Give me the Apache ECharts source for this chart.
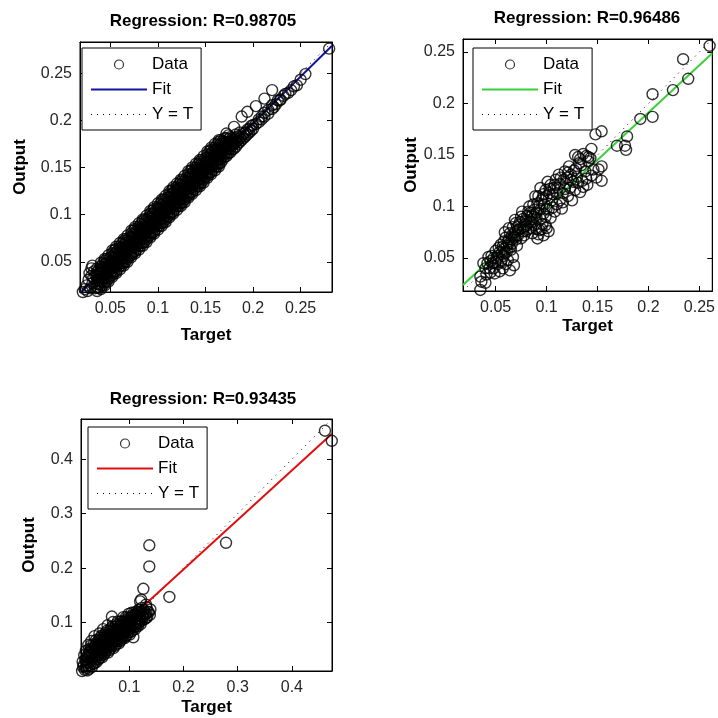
<!DOCTYPE html>
<html><head><meta charset="utf-8">
<script src="https://cdn.jsdelivr.net/npm/echarts@6/dist/echarts.min.js"></script>
<style>html,body{margin:0;padding:0;background:#fff}#c{width:718px;height:718px}</style>
</head><body><div id="c"></div>
<script>
// ---------- text ----------
const panelTitles = ['Regression: R=0.98705', 'Regression: R=0.96486', 'Regression: R=0.93435'];
const legendLabels = ['Data', 'Fit', 'Y = T'];
const xAxisName = 'Target';
const yAxisName = 'Output';

// ---------- axis limits (same for Target and Output in each panel) ----------
const limits1 = [0.018, 0.283];
const limits2 = [0.018, 0.2626];
const limits3 = [0.011, 0.474];

// ---------- fitted lines (end points) ----------
const fit1 = [[0.018, 0.0167], [0.283, 0.279]];
const fit2 = [[0.018, 0.0238], [0.2626, 0.2488]];
const fit3 = [[0.011, 0.0257], [0.474, 0.447]];

// ---------- training data (dense band): Target values and the Outputs read at each ----------
const trainTargets = [
0.036,0.038,0.040,0.042,0.044,0.046,0.048,0.050,0.052,0.054,0.056,0.058,0.060,0.062,0.064,0.066,0.068,0.070,
0.072,0.074,0.076,0.078,0.080,0.082,0.084,0.086,0.088,0.090,0.092,0.094,0.096,0.098,0.100,0.102,0.104,0.106,
0.108,0.110,0.112,0.114,0.116,0.118,0.120,0.122,0.124,0.126,0.128,0.130,0.132,0.134,0.136,0.138,0.140,0.142,
0.144,0.146,0.148,0.150,0.152,0.154,0.156,0.158,0.160,0.162,0.164,0.166,0.168,0.170,0.172,0.174,0.176,
0.178,0.180,0.182,0.184,0.186,0.188,0.190,0.192,0.194,0.196,0.198,0.200,0.203,0.206,0.209,0.212,0.216,0.220,
0.224,0.228,0.232,0.240,0.246,0.255,0.280
];
const trainOutputs = [
[0.019,0.023,0.027,0.031,0.035,0.039,0.043],[0.022,0.026,0.030,0.034,0.038,0.042],[0.025,0.029,0.033,0.037,0.041,0.045],
[0.025,0.028,0.032,0.036,0.040,0.044,0.048],[0.028,0.033,0.036,0.040,0.043,0.047,0.051],[0.029,0.033,0.037,0.041,0.045,0.049,0.053],
[0.032,0.036,0.040,0.044,0.048,0.052],[0.035,0.039,0.043,0.047,0.051,0.055],[0.036,0.039,0.043,0.047,0.051,0.055,0.059],
[0.039,0.044,0.047,0.051,0.054,0.058,0.062],[0.040,0.044,0.048,0.052,0.056,0.060,0.064],[0.043,0.047,0.051,0.055,0.059,0.063],
[0.046,0.050,0.054,0.058,0.062,0.066],[0.046,0.049,0.053,0.057,0.061,0.065,0.069],[0.049,0.054,0.057,0.061,0.064,0.068,0.072],
[0.050,0.054,0.058,0.062,0.066,0.070,0.074],[0.053,0.057,0.061,0.065,0.069,0.073],[0.056,0.060,0.064,0.068,0.072,0.076],
[0.057,0.060,0.064,0.068,0.072,0.076,0.080],[0.060,0.065,0.068,0.072,0.075,0.079,0.083],[0.061,0.065,0.069,0.073,0.077,0.081,0.085],
[0.064,0.068,0.072,0.076,0.080,0.084],[0.067,0.071,0.075,0.079,0.083,0.087],[0.067,0.070,0.074,0.078,0.082,0.086,0.090],
[0.070,0.075,0.078,0.082,0.085,0.089,0.093],[0.071,0.075,0.079,0.083,0.087,0.091,0.095],[0.074,0.078,0.082,0.086,0.090,0.094],
[0.077,0.081,0.085,0.089,0.093,0.097],[0.078,0.081,0.085,0.089,0.093,0.097,0.101],[0.081,0.086,0.089,0.093,0.096,0.100,0.104],
[0.082,0.086,0.090,0.094,0.098,0.102,0.106],[0.085,0.089,0.093,0.097,0.101,0.105],[0.088,0.092,0.096,0.100,0.104,0.108],
[0.088,0.091,0.095,0.099,0.103,0.107,0.111],[0.091,0.096,0.099,0.103,0.106,0.110,0.114],[0.092,0.096,0.100,0.104,0.108,0.112,0.116],
[0.095,0.099,0.103,0.107,0.111,0.115],[0.098,0.102,0.106,0.110,0.114,0.118],[0.099,0.102,0.106,0.110,0.114,0.118,0.122],
[0.102,0.107,0.110,0.114,0.117,0.121,0.125],[0.103,0.107,0.111,0.115,0.119,0.123,0.127],[0.106,0.110,0.114,0.118,0.122,0.126],
[0.109,0.113,0.117,0.121,0.125,0.129],[0.109,0.112,0.116,0.120,0.124,0.128,0.132],[0.112,0.117,0.120,0.124,0.127,0.131,0.135],
[0.113,0.117,0.121,0.125,0.129,0.133,0.137],[0.116,0.120,0.124,0.128,0.132,0.136],[0.119,0.123,0.127,0.131,0.135,0.139],
[0.120,0.123,0.127,0.131,0.135,0.139,0.143],[0.123,0.128,0.131,0.135,0.138,0.142,0.146],[0.124,0.128,0.132,0.136,0.140,0.144,0.148],
[0.127,0.131,0.135,0.139,0.143,0.147],[0.130,0.134,0.138,0.142,0.146,0.150],[0.130,0.133,0.137,0.141,0.145,0.149,0.153],
[0.133,0.138,0.141,0.145,0.148,0.152,0.156],[0.134,0.138,0.142,0.146,0.150,0.154,0.158],[0.137,0.141,0.145,0.149,0.153,0.157],
[0.140,0.144,0.148,0.152,0.156,0.160],[0.141,0.144,0.148,0.152,0.156,0.160,0.164],[0.144,0.149,0.152,0.156,0.159,0.163,0.167],
[0.145,0.149,0.153,0.157,0.161,0.165,0.169],[0.148,0.152,0.156,0.160,0.164,0.168],[0.151,0.155,0.159,0.163,0.167,0.171],
[0.151,0.154,0.158,0.162,0.166,0.170,0.174],[0.154,0.159,0.162,0.166,0.169,0.173,0.177],[0.155,0.159,0.163,0.167,0.171,0.175,0.179],
[0.158,0.162,0.166,0.170,0.174,0.178],[0.161,0.165,0.169,0.173,0.177,0.181],[0.162,0.165,0.169,0.173,0.177,0.181,0.186],
[0.165,0.170,0.173,0.177,0.180,0.184],[0.166,0.170,0.174,0.178,0.182],
[0.169,0.173,0.177,0.181],[0.170,0.175,0.179,0.193],[0.172,0.177,0.181,0.185],[0.175,0.179,0.183],[0.177,0.181,0.187],
[0.179,0.183,0.204],[0.181,0.186],[0.183,0.187],[0.185,0.190,0.209],[0.187,0.191],[0.189,0.194],[0.191,0.195],
[0.196,0.215],[0.198,0.201],[0.201,0.204],[0.204,0.208,0.223],[0.207,0.211],[0.212,0.216,0.232],
[0.217],[0.221],[0.226],[0.232],[0.237],[0.249],[0.276]
];
// extra training points: lower-left end, outer edges of the band, and upper end along the fit
const trainExtra = [
[0.021,0.018],[0.023,0.021],[0.026,0.019],[0.025,0.025],[0.027,0.031],[0.028,0.038],[0.030,0.043],[0.029,0.022],
[0.031,0.027],[0.032,0.033],[0.033,0.040],[0.031,0.046],[0.034,0.022],[0.034,0.036],[0.030,0.035],
[0.040,0.021],[0.044,0.025],[0.048,0.029],[0.052,0.034],[0.056,0.038],[0.060,0.042],[0.064,0.046],[0.068,0.050],
[0.072,0.055],[0.076,0.059],[0.080,0.063],[0.084,0.067],[0.088,0.071],[0.092,0.076],[0.096,0.080],[0.100,0.084],
[0.104,0.088],[0.108,0.092],[0.112,0.097],[0.116,0.101],[0.120,0.105],[0.124,0.109],[0.128,0.113],[0.132,0.118],
[0.136,0.122],[0.140,0.126],[0.144,0.130],[0.148,0.134],[0.152,0.139],[0.156,0.143],[0.160,0.147],[0.164,0.151],
[0.040,0.049],[0.044,0.053],[0.048,0.057],[0.052,0.062],[0.056,0.066],[0.060,0.070],[0.064,0.074],[0.068,0.078],
[0.072,0.083],[0.076,0.087],[0.080,0.091],[0.084,0.095],[0.088,0.099],[0.092,0.104],[0.096,0.108],[0.100,0.112],
[0.104,0.116],[0.108,0.120],[0.112,0.125],[0.116,0.129],[0.120,0.133],[0.124,0.137],[0.128,0.141],[0.132,0.146],
[0.136,0.150],[0.140,0.154],[0.144,0.158],[0.148,0.162],[0.152,0.167],[0.156,0.171],[0.160,0.175],[0.164,0.179],
[0.222,0.214],[0.226,0.221],[0.229,0.222],[0.234,0.228],[0.237,0.229],[0.243,0.236],[0.250,0.243]
];

const validationData = [
[0.260,0.256],[0.234,0.243],[0.239,0.224],[0.224,0.213],[0.204,0.209],[0.204,0.187],[0.192,0.185],
[0.179,0.168],[0.169,0.159],[0.178,0.155],[0.177,0.159],[0.148,0.170],[0.154,0.173],[0.154,0.139],
[0.154,0.125],[0.149,0.128],[0.143,0.147],
[0.128,0.150],[0.136,0.151],[0.133,0.146],[0.139,0.149],[0.141,0.144],[0.146,0.136],[0.151,0.136],
[0.144,0.130],[0.139,0.127],[0.131,0.148],[0.141,0.148],
[0.122,0.139],[0.118,0.134],[0.112,0.131],[0.109,0.126],[0.104,0.121],[0.099,0.116],
[0.126,0.124],[0.131,0.123],[0.136,0.119],[0.128,0.116],[0.133,0.114],[0.125,0.106],
[0.113,0.106],[0.115,0.098],[0.110,0.102],[0.105,0.106],
[0.096,0.108],[0.091,0.103],[0.088,0.097],[0.094,0.097],[0.099,0.090],[0.102,0.097],
[0.088,0.082],[0.093,0.077],[0.097,0.072],[0.102,0.076],[0.099,0.082],[0.091,0.069],[0.086,0.074],
[0.080,0.087],[0.075,0.090],[0.070,0.084],[0.067,0.080],[0.072,0.077],[0.080,0.076],[0.075,0.069],
[0.068,0.071],[0.064,0.074],
[0.062,0.066],[0.057,0.061],[0.065,0.058],[0.059,0.055],[0.054,0.056],[0.067,0.051],[0.062,0.048],
[0.055,0.046],[0.051,0.050],[0.047,0.045],[0.044,0.040],[0.049,0.035],[0.041,0.034],[0.038,0.045],
[0.043,0.051],[0.064,0.038],[0.068,0.043],[0.054,0.037],
[0.035,0.032],[0.036,0.027],[0.040,0.026],[0.035,0.019],
[0.060,0.070],[0.066,0.064],[0.070,0.068],[0.073,0.082],[0.078,0.080],[0.083,0.085],[0.085,0.091],
[0.082,0.095],[0.087,0.102],[0.092,0.110],[0.097,0.112],[0.103,0.113],[0.107,0.118],[0.113,0.122],
[0.117,0.126],[0.120,0.128],[0.124,0.131],[0.118,0.117],[0.121,0.110],[0.108,0.095],[0.104,0.089],
[0.096,0.083],[0.090,0.089],[0.085,0.079],[0.078,0.072],[0.071,0.062],[0.064,0.060],[0.058,0.052],
[0.052,0.044],[0.048,0.040],[0.045,0.047],[0.050,0.057],[0.055,0.063],[0.059,0.075],[0.063,0.079],
[0.069,0.087],[0.076,0.095],[0.083,0.100],[0.089,0.110],[0.094,0.118],[0.101,0.124],[0.110,0.113],
[0.116,0.104],[0.123,0.118],[0.129,0.137],[0.134,0.140],[0.144,0.156],
[0.040,0.040],[0.042,0.045],[0.046,0.052],[0.050,0.046],[0.053,0.060],[0.056,0.055],[0.058,0.066],
[0.061,0.062],[0.063,0.068],[0.066,0.072],[0.069,0.075],[0.071,0.080],[0.074,0.085],[0.077,0.088],
[0.079,0.083],[0.081,0.091],[0.084,0.094],[0.086,0.088],[0.090,0.094],[0.093,0.101],[0.095,0.106],
[0.098,0.102],[0.100,0.110],[0.103,0.117],[0.106,0.112],[0.108,0.121],[0.111,0.118],[0.114,0.128],
[0.116,0.113],[0.119,0.122],[0.121,0.133],[0.124,0.126],[0.127,0.135],[0.130,0.129],[0.132,0.142],
[0.135,0.125],[0.138,0.134],[0.140,0.121],[0.095,0.078],[0.092,0.073],[0.100,0.079],[0.106,0.099],
[0.060,0.044],[0.057,0.040],
[0.045,0.036],[0.048,0.050],[0.052,0.052],[0.056,0.048],[0.058,0.059],[0.061,0.056],[0.063,0.064],
[0.066,0.068],[0.069,0.070],[0.072,0.072],[0.074,0.078],[0.077,0.076],[0.080,0.081],[0.082,0.078],
[0.085,0.085],[0.088,0.090],[0.090,0.078],[0.094,0.088],[0.097,0.093],[0.100,0.098]
];

const testData = [
[0.461,0.4525],[0.4736,0.434],[0.2785,0.2466],[0.137,0.242],[0.137,0.203],[0.126,0.162],[0.174,0.147],
[0.120,0.139],[0.068,0.111],[0.1075,0.073],[0.122,0.142],[0.131,0.133],
[0.018,0.013],[0.016,0.022],[0.019,0.031],[0.017,0.040],[0.020,0.048],
[0.023,0.012],[0.024,0.021],[0.022,0.030],[0.023,0.039],[0.025,0.050],[0.0245,0.059],
[0.028,0.022],[0.029,0.030],[0.027,0.039],[0.028,0.048],[0.029,0.058],[0.030,0.066],
[0.033,0.024],[0.034,0.033],[0.032,0.042],[0.033,0.051],[0.034,0.060],[0.036,0.075],
[0.038,0.032],[0.039,0.041],[0.037,0.050],[0.038,0.059],[0.039,0.068],
[0.043,0.032],[0.044,0.041],[0.042,0.050],[0.043,0.059],[0.044,0.068],[0.045,0.080],
[0.048,0.040],[0.049,0.049],[0.047,0.058],[0.048,0.067],[0.049,0.076],
[0.053,0.041],[0.054,0.050],[0.052,0.059],[0.053,0.068],[0.054,0.077],[0.052,0.088],
[0.058,0.049],[0.059,0.058],[0.057,0.067],[0.058,0.076],[0.059,0.085],[0.060,0.095],
[0.063,0.049],[0.064,0.058],[0.062,0.067],[0.063,0.076],[0.064,0.085],
[0.068,0.057],[0.069,0.066],[0.067,0.075],[0.068,0.084],[0.069,0.093],[0.070,0.101],
[0.073,0.057],[0.074,0.066],[0.072,0.075],[0.073,0.084],[0.074,0.093],
[0.078,0.066],[0.079,0.075],[0.077,0.084],[0.078,0.093],[0.079,0.102],
[0.083,0.066],[0.084,0.075],[0.082,0.084],[0.083,0.093],[0.084,0.102],
[0.088,0.074],[0.089,0.083],[0.087,0.092],[0.088,0.101],[0.089,0.110],
[0.093,0.074],[0.094,0.083],[0.092,0.092],[0.093,0.101],[0.094,0.110],
[0.098,0.082],[0.099,0.091],[0.097,0.100],[0.098,0.109],[0.099,0.116],
[0.103,0.083],[0.104,0.092],[0.102,0.101],[0.103,0.110],[0.104,0.118],
[0.108,0.091],[0.109,0.100],[0.107,0.109],[0.108,0.118],
[0.113,0.094],[0.114,0.103],[0.112,0.112],[0.113,0.120],
[0.118,0.099],[0.119,0.108],[0.117,0.117],[0.118,0.124],
[0.123,0.103],[0.124,0.112],[0.122,0.120],[0.123,0.127],
[0.128,0.106],[0.129,0.115],[0.127,0.123],
[0.133,0.110],[0.134,0.120],[0.132,0.128],
[0.138,0.114],[0.139,0.124],
[0.013,0.011],[0.015,0.018],[0.014,0.028],[0.020,0.017],[0.026,0.015],[0.031,0.018],[0.036,0.025],
[0.040,0.028],[0.046,0.035],[0.050,0.036],[0.055,0.044],[0.061,0.045],[0.065,0.052],[0.071,0.053],
[0.076,0.060],[0.081,0.062],[0.086,0.069],[0.091,0.071],[0.096,0.077],[0.101,0.078],[0.106,0.085],
[0.111,0.088],[0.116,0.093],[0.121,0.097],
[0.026,0.044],[0.031,0.053],[0.036,0.046],[0.041,0.055],[0.046,0.063],[0.051,0.072],[0.056,0.081],
[0.061,0.079],[0.066,0.089],[0.071,0.088],[0.076,0.097],[0.081,0.088],[0.086,0.097],[0.091,0.104],
[0.096,0.095],[0.101,0.105],[0.106,0.113],[0.111,0.106],[0.116,0.112],[0.121,0.115],[0.126,0.110],
[0.131,0.117],[0.136,0.119],
[0.021,0.026],[0.021,0.036],[0.026,0.027],[0.026,0.035],[0.031,0.035],[0.031,0.044],[0.036,0.037],
[0.036,0.056],[0.041,0.038],[0.041,0.047],[0.041,0.064],[0.046,0.045],[0.046,0.054],[0.046,0.072],
[0.051,0.046],[0.051,0.055],[0.051,0.064],[0.056,0.054],[0.056,0.063],[0.056,0.072],[0.061,0.055],
[0.061,0.063],[0.061,0.071],[0.066,0.061],[0.066,0.071],[0.066,0.080],[0.071,0.062],[0.071,0.071],
[0.071,0.080],[0.076,0.070],[0.076,0.079],[0.076,0.088],[0.081,0.071],[0.081,0.080],[0.086,0.078],
[0.086,0.087],[0.091,0.080],[0.091,0.088],[0.091,0.096],[0.096,0.086],[0.096,0.104],[0.101,0.088],
[0.101,0.097],[0.106,0.095],[0.106,0.104],[0.111,0.097],[0.111,0.115],[0.116,0.102],[0.116,0.120],
[0.121,0.106],[0.126,0.117],[0.131,0.108]
];

// ---------- build ----------
const trainData = trainExtra.slice();
trainTargets.forEach((t, i) => trainOutputs[i].forEach(y => trainData.push([t, y])));

const FONT = '"Liberation Sans", Arial, Helvetica, sans-serif';
const panels = [
  { data: trainData, lim: limits1, fit: fit1, color: '#1414a0',
    grid: { left: 80, top: 42, width: 252, height: 250 }, titleX: 203, titleY: 13,
    legend: { left: 82, top: 48 }, yGap: 51, xGap: 35 },
  { data: validationData, lim: limits2, fit: fit2, color: '#3ccf3c',
    grid: { left: 463, top: 39, width: 253, height: 252 }, titleX: 587, titleY: 10,
    legend: { left: 473, top: 48 }, yGap: 41, xGap: 27 },
  { data: testData, lim: limits3, fit: fit3, color: '#e01010',
    grid: { left: 81, top: 419, width: 251, height: 252 }, titleX: 203, titleY: 391,
    legend: { left: 88, top: 427 }, yGap: 43, xGap: 28 }
];

const nameMap = {};
const option = { animation: false, backgroundColor: '#fff', title: [], grid: [], xAxis: [], yAxis: [], legend: [], series: [] };

panels.forEach((p, i) => {
  const k = i + 1;
  option.title.push({ text: panelTitles[i], left: p.titleX, top: p.titleY, textAlign: 'center', padding: 0,
    textStyle: { fontFamily: FONT, fontSize: 17, fontWeight: 'bold', color: '#000' } });
  option.grid.push(Object.assign({ show: true, borderColor: '#000', borderWidth: 1, backgroundColor: '#fff' }, p.grid));
  const tick = { show: true, inside: true, length: 5, lineStyle: { color: '#000', width: 1 } };
  const line = { show: true, lineStyle: { color: '#000', width: 1 } };
  const lbl = { fontFamily: FONT, fontSize: 16, color: '#262626', showMinLabel: false, showMaxLabel: false };
  const nm = { fontFamily: FONT, fontSize: 17, fontWeight: 'bold', color: '#000' };
  option.xAxis.push({ type: 'value', gridIndex: i, position: 'bottom', min: p.lim[0], max: p.lim[1],
    axisLine: line, axisTick: tick, splitLine: { show: false },
    axisLabel: Object.assign({ margin: 9 }, lbl),
    name: xAxisName, nameLocation: 'middle', nameGap: p.xGap, nameTextStyle: nm });
  option.xAxis.push({ type: 'value', gridIndex: i, position: 'top', min: p.lim[0], max: p.lim[1],
    axisLine: line, axisTick: tick, splitLine: { show: false }, axisLabel: { show: false } });
  option.yAxis.push({ type: 'value', gridIndex: i, position: 'left', min: p.lim[0], max: p.lim[1],
    axisLine: line, axisTick: tick, splitLine: { show: false },
    axisLabel: Object.assign({ margin: 8 }, lbl),
    name: yAxisName, nameLocation: 'middle', nameGap: p.yGap, nameTextStyle: nm });
  option.yAxis.push({ type: 'value', gridIndex: i, position: 'right', min: p.lim[0], max: p.lim[1],
    axisLine: line, axisTick: tick, splitLine: { show: false }, axisLabel: { show: false } });

  const nData = 'Data' + k, nFit = 'Fit' + k, nYT = 'YT' + k;
  nameMap[nData] = legendLabels[0]; nameMap[nFit] = legendLabels[1]; nameMap[nYT] = legendLabels[2];
  const xi = i * 2, yi = i * 2;
  option.series.push({ name: nYT, type: 'line', xAxisIndex: xi, yAxisIndex: yi, data: [[p.lim[0], p.lim[0]], [p.lim[1], p.lim[1]]],
    symbol: 'none', silent: true, z: 2, lineStyle: { color: '#000', width: 1, type: [1, 5] } });
  option.series.push({ name: nFit, type: 'line', xAxisIndex: xi, yAxisIndex: yi, data: p.fit,
    symbol: 'none', silent: true, z: 3, lineStyle: { color: p.color, width: 2 } });
  option.series.push({ name: nData, type: 'scatter', xAxisIndex: xi, yAxisIndex: yi, data: p.data,
    symbol: 'circle', symbolSize: 11, silent: true, z: 4,
    itemStyle: { color: 'rgba(0,0,0,0)', borderColor: '#000', borderWidth: 1.4 } });

  const hide = { color: 'rgba(0,0,0,0)', borderColor: 'rgba(0,0,0,0)', borderWidth: 0 };
  option.legend.push({ orient: 'vertical', left: p.legend.left, top: p.legend.top, z: 10,
    data: [ { name: nData, icon: 'circle', itemStyle: { color: 'rgba(0,0,0,0)', borderColor: '#000', borderWidth: 1.2 } },
            { name: nFit, itemStyle: hide },
            { name: nYT, itemStyle: hide, lineStyle: { width: 1 } } ],
    formatter: n => nameMap[n], selectedMode: false,
    itemWidth: 56, itemHeight: 9, itemGap: 8, padding: [8, 8, 7, 8],
    borderColor: '#000', borderWidth: 1, borderRadius: 0, backgroundColor: '#fff',
    textStyle: { fontFamily: FONT, fontSize: 17, color: '#000' } });
});

const chart = echarts.init(document.getElementById('c'), null, { renderer: 'canvas' });
chart.setOption(option);
</script>
</body></html>
